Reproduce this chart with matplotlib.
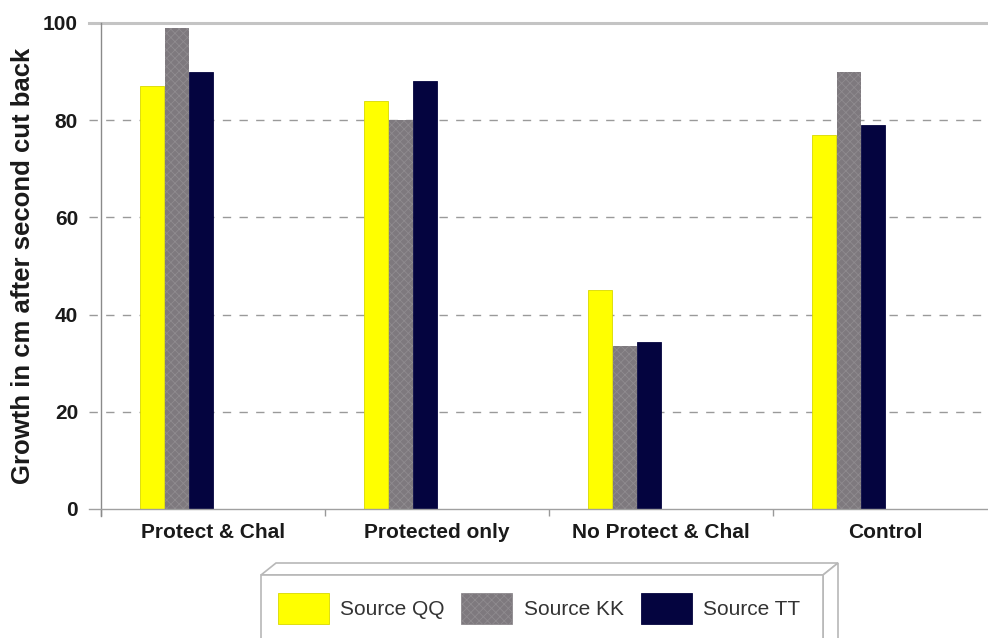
import matplotlib
matplotlib.use("Agg")
import matplotlib.pyplot as plt
from matplotlib.patches import Polygon, Patch
import numpy as np

categories = ["Protect & Chal", "Protected only", "No Protect & Chal", "Control"]
series_names = ["Source QQ", "Source KK", "Source TT"]
source_qq = [87, 84, 45, 77]
source_kk = [99, 80, 33.5, 90]
source_tt = [90, 88, 34.3, 79]
y_ticks = [0, 20, 40, 60, 80, 100]
y_label = "Growth in cm after second cut back"

plt.rcParams['font.family'] = ['Liberation Sans', 'DejaVu Sans']
plt.rcParams['hatch.linewidth'] = 0.6

W, H = 988, 638
fig = plt.figure(figsize=(W / 100, H / 100), dpi=100)
ax = fig.add_axes([101 / W, (H - 509) / H, (997 - 101) / W, (509 - 23) / H])

x = np.arange(len(categories))
bw = 0.108
offsets = [-0.272, -0.162, -0.052]
styles = [
    dict(color="#ffff00", edgecolor="#d8d800", linewidth=0.6),
    dict(color="#7e797e", edgecolor="#8f8b8f", linewidth=0, hatch="xxxx"),
    dict(color="#04043f", edgecolor="#04043f", linewidth=0.6),
]
for vals, off, st in zip([source_qq, source_kk, source_tt], offsets, styles):
    ax.bar(x + off, vals, width=bw, zorder=3, **st)

ax.set_xlim(-0.5, len(categories) - 0.5)
ax.set_ylim(0, 100)
ax.set_yticks(y_ticks)
ax.set_yticklabels([str(v) for v in y_ticks], fontsize=15, fontweight="bold", color="#1a1a1a")
ax.tick_params(axis="y", length=0, pad=16.5)

ax.set_xticks(x)
ax.set_xticklabels(categories, fontsize=15, fontweight="bold", color="#1a1a1a")
ax.tick_params(axis="x", which="major", length=0, pad=10)
ax.set_xticks(np.arange(-0.5, len(categories), 1.0), minor=True)
ax.tick_params(axis="x", which="minor", length=5, color="#999999", width=1)

# gridlines extending into tick area
ext = 12 / 896
for v in y_ticks[1:-1]:
    ax.axhline(v, xmin=-ext, xmax=1, color="#9a9a9a", lw=1, ls=(0, (6, 6)), clip_on=False, zorder=1)
ax.axhline(y_ticks[-1], xmin=-ext, xmax=1, color="#c4c4c4", lw=2.2, clip_on=False, zorder=1)
ax.axhline(0, xmin=-ext, xmax=1, color="#a0a0a0", lw=1, clip_on=False, zorder=4)

for s in ["top", "right", "bottom"]:
    ax.spines[s].set_visible(False)
ax.spines["left"].set_color("#8a8a8a")
ax.spines["left"].set_linewidth(1)
ax.spines["left"].set_bounds(-1.5, 100)

ax.set_ylabel(y_label, fontsize=18.5, fontweight="bold", color="#1a1a1a")
ax.yaxis.set_label_coords(-0.0737, 0.5)

# 3D legend frame (pixel coords -> figure fraction)
def P(px, py):
    return (px / W, 1 - py / H)

top_face = Polygon([P(261, 575), P(276, 563), P(838, 563), P(823, 575)], closed=True,
                   transform=fig.transFigure, facecolor="white", edgecolor="#b8b8b8", lw=1.2)
right_face = Polygon([P(823, 575), P(838, 563), P(838, 645), P(823, 645)], closed=True,
                     transform=fig.transFigure, facecolor="white", edgecolor="#b8b8b8", lw=1.2)
front = Polygon([P(261, 575), P(823, 575), P(823, 645), P(261, 645)], closed=True,
                transform=fig.transFigure, facecolor="white", edgecolor="#b8b8b8", lw=1.2)
for p in (top_face, right_face, front):
    fig.patches.append(p)

handles = [Patch(facecolor=st["color"], edgecolor=st.get("edgecolor"), hatch=st.get("hatch"),
                 linewidth=0.6) for st in styles]
leg = fig.legend(handles, series_names, loc="center", bbox_to_anchor=P(539, 608.5),
                 ncol=3, frameon=False, fontsize=15, handlelength=2.45, handleheight=1.85,
                 handletextpad=0.55, columnspacing=0.8, borderpad=0, borderaxespad=0)
for t in leg.get_texts():
    t.set_color("#333333")

fig.savefig("out.png", dpi=100)
